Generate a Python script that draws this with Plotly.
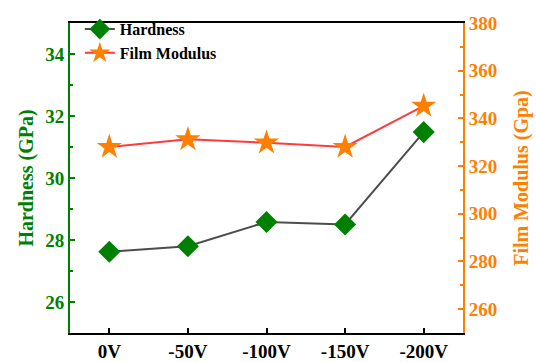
import plotly.graph_objects as go

categories = ["0V", "-50V", "-100V", "-150V", "-200V"]
hardness = [27.62, 27.8, 28.58, 28.5, 31.48]
film_modulus = [328.0, 331.2, 329.8, 328.0, 345.2]

GREEN = "#008000"
ORANGE = "#ff8000"
FONT = "Liberation Serif"

fig = go.Figure()
fig.add_trace(go.Scatter(
    x=categories, y=hardness, name="<b>Hardness</b>", mode="lines+markers",
    line=dict(color="#4d4d4d", width=2),
    marker=dict(symbol="diamond", size=17, color=GREEN),
))
fig.add_trace(go.Scatter(
    x=categories, y=film_modulus, name="<b>Film Modulus</b>", mode="lines+markers",
    line=dict(color="#ff3b3b", width=2),
    marker=dict(symbol="star", size=19, color=ORANGE),
    yaxis="y2",
))

fig.update_layout(
    width=536, height=362,
    margin=dict(l=70, r=73, t=16, b=29),
    plot_bgcolor="white", paper_bgcolor="white",
    font=dict(family=FONT, size=18, color="black"),
    showlegend=True,
    legend=dict(x=0.025, y=1.035, xanchor="left", yanchor="top",
                bgcolor="rgba(0,0,0,0)", font=dict(size=16, color="black"),
                tracegroupgap=0, itemwidth=30),
    xaxis=dict(
        type="category", range=[-0.5, 4.5], automargin=False,
        showline=True, linecolor="black", linewidth=2, mirror=True,
        ticks="inside", ticklen=5, tickwidth=1.5, tickcolor="black",
        showgrid=False, zeroline=False,
        tickfont=dict(family=FONT, size=19, color="black", weight="bold"),
    ),
    yaxis=dict(
        range=[25, 35], dtick=2, tick0=0, automargin=False,
        showline=True, linecolor=GREEN, linewidth=2,
        ticks="inside", ticklen=5, tickwidth=1.5, tickcolor=GREEN,
        minor=dict(dtick=1, ticks="inside", ticklen=3, tickcolor=GREEN, tickwidth=1.5),
        showgrid=False, zeroline=False,
        tickfont=dict(family=FONT, size=19, color=GREEN, weight="bold"),
        title=dict(text="<b>Hardness (GPa)</b>", font=dict(family=FONT, size=20, color=GREEN), standoff=6),
    ),
    yaxis2=dict(
        range=[250, 380], dtick=20, tick0=0, automargin=False,
        overlaying="y", side="right",
        showline=True, linecolor=ORANGE, linewidth=2,
        ticks="inside", ticklen=5, tickwidth=1.5, tickcolor=ORANGE,
        minor=dict(dtick=10, ticks="inside", ticklen=3, tickcolor=ORANGE, tickwidth=1.5),
        showgrid=False, zeroline=False,
        tickfont=dict(family=FONT, size=19, color=ORANGE, weight="bold"),
        title=dict(text="<b>Film Modulus (Gpa)</b>", font=dict(family=FONT, size=20, color=ORANGE), standoff=18),
    ),
)

fig.write_html("out.html")
